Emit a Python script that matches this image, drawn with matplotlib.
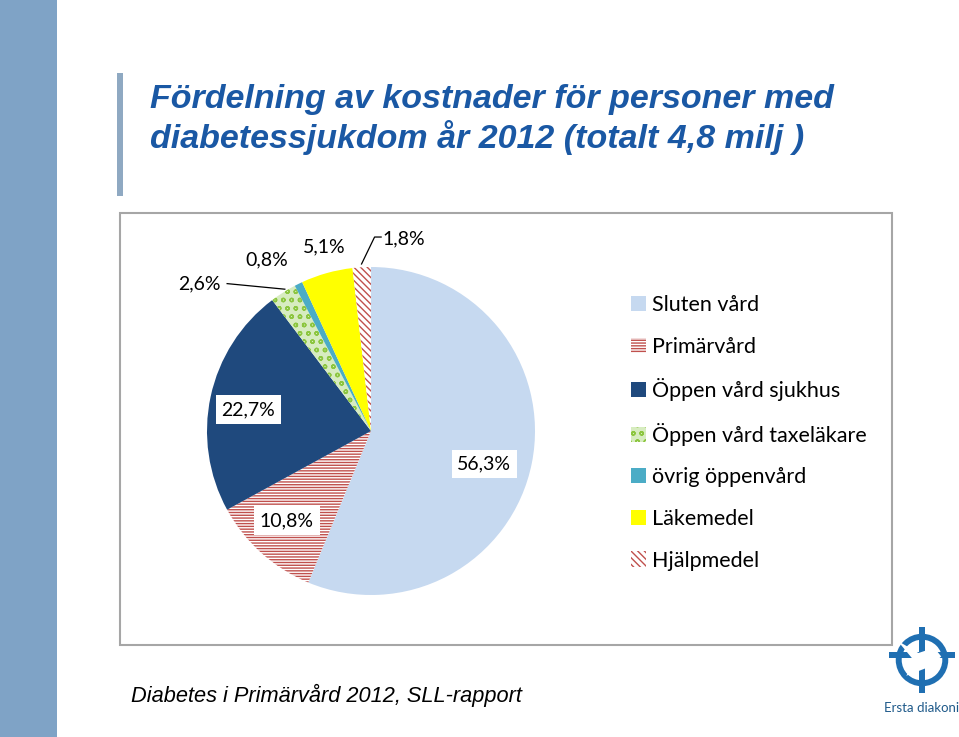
import matplotlib
matplotlib.use("Agg")
import matplotlib.pyplot as plt
from matplotlib.patches import Rectangle, Circle, Polygon
import numpy as np

categories = ["Sluten vård", "Primärvård", "Öppen vård sjukhus", "Öppen vård taxeläkare",
              "övrig öppenvård", "Läkemedel", "Hjälpmedel"]
values = [56.3, 10.8, 22.7, 2.6, 0.8, 5.1, 1.8]
labels = ["56,3%", "10,8%", "22,7%", "2,6%", "0,8%", "5,1%", "1,8%"]
title_lines = ["Fördelning av kostnader för personer med",
               "diabetessjukdom år 2012 (totalt 4,8 milj )"]
footer = "Diabetes i Primärvård 2012, SLL-rapport"

W, H = 959, 737
fig = plt.figure(figsize=(W / 100, H / 100), dpi=100)
fig.patch.set_facecolor("white")

def px(x, y):
    return x / W, 1 - y / H

# left decorative stripe
fig.patches.append(Rectangle((0, 0), 57 / W, 1, transform=fig.transFigure,
                             facecolor="#7fa3c6", edgecolor="none", zorder=-2))
# small vertical bar by title
fig.patches.append(Rectangle(px(117, 196), 6 / W, 123 / H, transform=fig.transFigure,
                             facecolor="#8fa9c2", edgecolor="none", zorder=-2))

# title
title_kw = dict(fontsize=24.5, fontweight="bold", fontstyle="italic",
                family="Liberation Sans", color="#1a58a4", va="baseline", ha="left")
fig.text(*px(150, 108), title_lines[0], **title_kw)
fig.text(*px(150, 148), title_lines[1], **title_kw)

# chart box
fig.patches.append(Rectangle(px(120, 645), (892 - 120) / W, (645 - 213) / H,
                             transform=fig.transFigure, facecolor="white",
                             edgecolor="#a6a6a6", linewidth=1.5, zorder=-1))

# pie axes: center (371,431) px, radius 164 px
R = 164
cx, cy = 371, 431
k = 1.6
ax = fig.add_axes([(cx - k * R) / W, (H - cy - k * R) / H, 2 * k * R / W, 2 * k * R / H])
ax.patch.set_alpha(0)

plt.rcParams["hatch.linewidth"] = 1.0
faces = ["#c6d9f0", "white", "#1f497d", "#d7ecc0", "#4bacc6", "#ffff00", "white"]
hatch_cols = ["#c6d9f0", "#c0504d", "#1f497d", "#8cc63f", "#4bacc6", "#ffff00", "#c0504d"]
hatches = [None, "------", None, "oo", None, None, "\\\\\\\\\\"]

wedges, _ = ax.pie(values, startangle=90, counterclock=False, radius=1.0,
                   colors=faces, wedgeprops=dict(linewidth=0))
for w, hc, h in zip(wedges, hatch_cols, hatches):
    w.set_edgecolor(hc)
    w.set_linewidth(0)
    if h:
        w.set_hatch(h)
ax.set_xlim(-k, k)
ax.set_ylim(-k, k)
ax.set_aspect("equal")
ax.axis("off")

# label positions: (radius factor, angle offset)
label_font = dict(family="Lato", fontsize=14, color="black", ha="center", va="center")
lab_pos = [(0.72, -5), (0.75, -1.3), (0.76, 2.2), (1.38, 17), (1.22, 5), (1.16, -1.3), (1.19, -13)]
for w, lab, (rf, da) in zip(wedges, labels, lab_pos):
    mid = np.deg2rad((w.theta1 + w.theta2) / 2 + da)
    x, y = rf * np.cos(mid), rf * np.sin(mid)
    inside = rf < 1
    bbox = dict(boxstyle="square,pad=0.3", fc="white", ec="none") if inside else None
    ax.text(x, y, lab, bbox=bbox, **label_font)

# leader lines for 2,6% and 1,8%
w = wedges[3]
m = np.deg2rad((w.theta1 + w.theta2) / 2)
ex, ey = 1.0 * np.cos(m), 1.0 * np.sin(m)
a = np.deg2rad((w.theta1 + w.theta2) / 2 + 17)
lx, ly = 1.38 * np.cos(a), 1.38 * np.sin(a)
ax.plot([lx + 0.17, ex + 0.01], [ly, ey + 0.02], color="black", lw=0.9)

w = wedges[6]
m = np.deg2rad((w.theta1 + w.theta2) / 2)
ex, ey = 1.02 * np.cos(m), 1.02 * np.sin(m)
a = np.deg2rad((w.theta1 + w.theta2) / 2 - 13)
lx, ly = 1.19 * np.cos(a), 1.19 * np.sin(a)
ax.plot([lx - 0.14, lx - 0.18, ex], [ly + 0.01, ly + 0.01, ey], color="black", lw=0.9)

# legend
leg = fig.legend(wedges, categories, loc="upper left", bbox_to_anchor=px(612, 276),
                 frameon=False, handlelength=0.7, handleheight=0.7, handletextpad=0.25,
                 labelspacing=1.0, prop=dict(family="Lato", size=15.5))

# footer
fig.text(*px(131, 702), footer, fontsize=15.7, fontstyle="italic",
         family="Liberation Sans", color="black", va="baseline", ha="left")

# logo
lc = "#1f6fb2"
lax = fig.add_axes([880 / W, (H - 695) / H, 84 / W, 70 / H])
lax.set_xlim(-1.2, 1.2)
lax.set_ylim(-1.0, 1.0)
lax.set_aspect("equal")
lax.axis("off")
lax.add_patch(Circle((0, 0), 0.75, facecolor=lc, edgecolor="none"))
lax.add_patch(Circle((0, 0), 0.58, facecolor="white", edgecolor="none"))
lax.add_patch(Rectangle((-0.09, -0.95), 0.18, 1.9, facecolor=lc, edgecolor="none"))
lax.add_patch(Rectangle((-0.95, 0.05), 1.9, 0.18, facecolor=lc, edgecolor="none"))
lax.add_patch(Polygon([(-0.7, 0.55), (-0.1, 0.2), (0.35, 0.35), (0.55, 0.1),
                       (0.2, -0.2), (-0.45, -0.45), (-0.2, -0.05)],
                      closed=True, facecolor="white", edgecolor="none"))
fig.text(*px(922, 712), "Ersta diakoni", fontsize=9.5, family="Lato", color="#1f5a8a",
         ha="center", va="baseline")

fig.savefig("out.png", dpi=100)
